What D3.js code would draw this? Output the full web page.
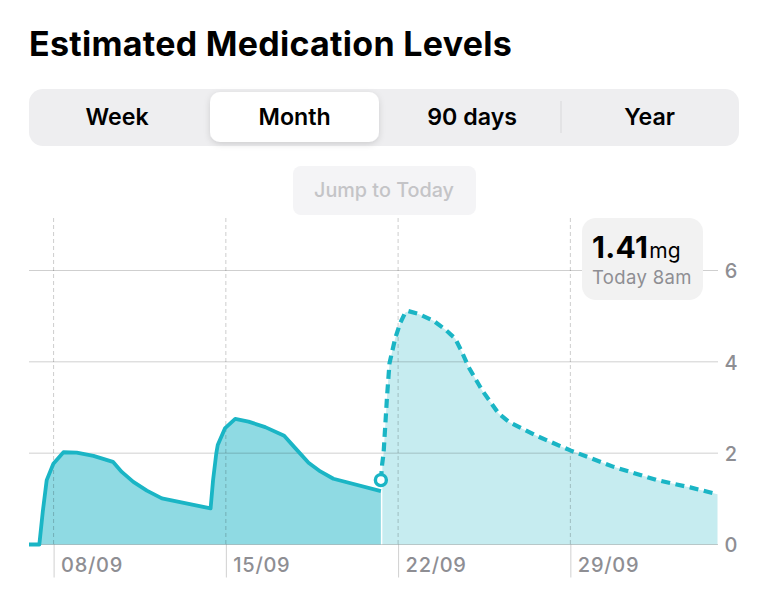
<!DOCTYPE html>
<html>
<head>
<meta charset="utf-8">
<title>Estimated Medication Levels</title>
<script src="https://cdnjs.cloudflare.com/ajax/libs/d3/7.8.5/d3.min.js"></script>
<style>
  html, body { margin: 0; padding: 0; background: #fff; }
  svg { display: block; }
  text { font-family: Inter, "Noto Sans", sans-serif; }
</style>
</head>
<body>
<div id="chart"></div>
<script>
// day of september (goes past 30 into october) and level in mg
var pastDays = [7, 7.42, 7.56, 7.72, 7.99, 8.4, 8.94, 9.62, 10.41, 10.77, 11.24, 11.79, 12.4, 14.38, 14.48, 14.61, 14.67, 14.97, 15.38, 15.92, 16.6, 17.37, 17.82, 18.36, 18.84, 19.37, 21.3];
var pastLevels = [0, 0, 0.72, 1.41, 1.77, 2.02, 2.01, 1.94, 1.81, 1.59, 1.37, 1.18, 1.01, 0.79, 1.41, 1.99, 2.18, 2.55, 2.75, 2.69, 2.57, 2.38, 2.11, 1.79, 1.6, 1.44, 1.17];

var futureDays = [21.3, 21.35, 21.41, 21.45, 21.55, 21.65, 21.88, 22.08, 22.29, 22.42, 22.83, 23.44, 23.91, 24.32, 24.59, 24.86, 25.41, 25.74, 26.08, 26.49, 27.03, 27.71, 29, 30.76, 32.52, 33.87, 34.98];
var futureLevels = [1.41, 1.75, 2, 2.36, 3.24, 3.97, 4.51, 4.84, 5.08, 5.11, 5.05, 4.9, 4.71, 4.51, 4.22, 3.89, 3.38, 3.13, 2.87, 2.69, 2.54, 2.36, 2.06, 1.7, 1.41, 1.25, 1.1];

var xTickDays = [8, 15, 22, 29];
var xTickLabels = ["08/09", "15/09", "22/09", "29/09"];
var yTicks = [0, 2, 4, 6];
var periods = ["Week", "Month", "90 days", "Year"];
var todayDay = 21.3;
var todayLevel = 1.41;

var width = 768, height = 600;

var svg = d3.select("#chart").append("svg")
    .attr("width", width)
    .attr("height", height);

var defs = svg.append("defs");
var shadow = defs.append("filter").attr("id", "pillShadow")
    .attr("x", "-10%").attr("y", "-20%").attr("width", "120%").attr("height", "150%");
shadow.append("feDropShadow")
    .attr("dx", 0).attr("dy", 2).attr("stdDeviation", 3)
    .attr("flood-color", "#000").attr("flood-opacity", 0.14);

// title
svg.append("text")
    .attr("x", 29).attr("y", 56)
    .attr("font-size", 34).attr("font-weight", 700).attr("fill", "#000")
    .attr("letter-spacing", 0.28)
    .text("Estimated Medication Levels");

// segmented control
var segScale = d3.scaleBand().domain(periods).range([29, 739]);

svg.append("rect")
    .attr("x", 29).attr("y", 89).attr("width", 710).attr("height", 57)
    .attr("rx", 14).attr("fill", "#eeeef0");

svg.append("rect")
    .attr("x", 210).attr("y", 92).attr("width", 169).attr("height", 50)
    .attr("rx", 10).attr("fill", "#fff")
    .attr("filter", "url(#pillShadow)");

svg.append("line")
    .attr("x1", 561).attr("x2", 561).attr("y1", 101).attr("y2", 133)
    .attr("stroke", "#d8d8da").attr("stroke-width", 1);

svg.selectAll(".period").data(periods).enter().append("text")
    .attr("class", "period")
    .attr("x", function(d) { return segScale(d) + segScale.bandwidth() / 2 - 0.6; })
    .attr("y", 125)
    .attr("text-anchor", "middle")
    .attr("font-size", 23.2).attr("font-weight", 600).attr("fill", "#000")
    .text(function(d) { return d; });

// jump button
svg.append("rect")
    .attr("x", 293).attr("y", 166).attr("width", 183).attr("height", 49)
    .attr("rx", 8).attr("fill", "#f4f4f6");

svg.append("text")
    .attr("x", 384).attr("y", 197)
    .attr("text-anchor", "middle")
    .attr("font-size", 19.8).attr("font-weight", 500).attr("fill", "#c4c4c7")
    .text("Jump to Today");

// scales
var xScale = d3.scaleLinear().domain([7, 35]).range([29, 718]);
var yScale = d3.scaleLinear().domain([0, 6]).range([544.5, 270.5]);

var past = pastDays.map(function(d, i) { return { day: d, level: pastLevels[i] }; });
var future = futureDays.map(function(d, i) { return { day: d, level: futureLevels[i] }; });

var line = d3.line()
    .x(function(d) { return xScale(d.day); })
    .y(function(d) { return yScale(d.level); });

var area = d3.area()
    .x(function(d) { return xScale(d.day); })
    .y0(yScale(0))
    .y1(function(d) { return yScale(d.level); });

// areas go under the grid lines
svg.append("path")
    .attr("d", area(past.slice(1)))
    .attr("fill", "#8fdae3");

svg.append("path")
    .attr("d", area(future.map(function(d) {
        return { day: Math.max(d.day, todayDay + 0.06), level: d.level };
    })))
    .attr("fill", "#c6ecf0");

// horizontal grid
svg.selectAll(".hgrid").data(yTicks).enter().append("line")
    .attr("class", "hgrid")
    .attr("x1", 29).attr("x2", 718)
    .attr("y1", function(d) { return yScale(d); })
    .attr("y2", function(d) { return yScale(d); })
    .attr("stroke", "#000").attr("stroke-opacity", 0.19).attr("stroke-width", 1);

// vertical dashed grid
svg.selectAll(".vgrid").data(xTickDays).enter().append("line")
    .attr("class", "vgrid")
    .attr("x1", function(d) { return xScale(d); })
    .attr("x2", function(d) { return xScale(d); })
    .attr("y1", 218).attr("y2", yScale(0))
    .attr("stroke", "#000").attr("stroke-opacity", 0.2).attr("stroke-width", 1)
    .attr("stroke-dasharray", "4,3");

// axes
var xAxis = d3.axisBottom(xScale)
    .tickValues(xTickDays)
    .tickSize(33)
    .tickFormat(function(d, i) { return xTickLabels[i]; });

var gx = svg.append("g")
    .attr("transform", "translate(0," + yScale(0) + ")")
    .call(xAxis);
gx.select(".domain").remove();
gx.selectAll(".tick line").attr("stroke", "#000").attr("stroke-opacity", 0.19);
gx.selectAll(".tick text")
    .attr("x", 7).attr("y", 27)
    .attr("dy", 0)
    .attr("text-anchor", "start")
    .attr("font-size", 20).attr("font-weight", 500)
    .attr("letter-spacing", 0.7)
    .attr("fill", "#8e8e93")
    .style("font-family", "Inter, sans-serif");

var yAxis = d3.axisRight(yScale).tickValues(yTicks).tickSize(0).tickFormat(d3.format("d"));
var gy = svg.append("g")
    .attr("transform", "translate(731,0)")
    .call(yAxis);
gy.select(".domain").remove();
gy.selectAll(".tick text")
    .attr("x", 0).attr("dy", "0.36em")
    .attr("text-anchor", "middle")
    .attr("font-size", 20).attr("font-weight", 500)
    .attr("fill", "#8e8e93")
    .style("font-family", "Inter, sans-serif");

// lines
svg.append("path")
    .attr("d", line(past))
    .attr("fill", "none")
    .attr("stroke", "#1ab5c5").attr("stroke-width", 3.8)
    .attr("stroke-linejoin", "round");

svg.append("path")
    .attr("d", line(future))
    .attr("fill", "none")
    .attr("stroke", "#1ab5c5").attr("stroke-width", 4.2)
    .attr("stroke-dasharray", "9,5.5");

// today marker
svg.append("circle")
    .attr("cx", xScale(todayDay)).attr("cy", yScale(todayLevel))
    .attr("r", 5.5)
    .attr("fill", "#fff")
    .attr("stroke", "#1ab5c5").attr("stroke-width", 3.4);

// readout
svg.append("rect")
    .attr("x", 582).attr("y", 218).attr("width", 121).attr("height", 82)
    .attr("rx", 14).attr("fill", "#f2f2f2");

var value = svg.append("text")
    .attr("x", 592).attr("y", 258)
    .attr("fill", "#000");
value.append("tspan")
    .attr("font-size", 30).attr("font-weight", 700)
    .attr("letter-spacing", 0.3)
    .text(todayLevel);
value.append("tspan")
    .attr("font-size", 21).attr("font-weight", 400)
    .attr("dx", 1)
    .text("mg");

svg.append("text")
    .attr("x", 592).attr("y", 284)
    .attr("font-size", 18.5).attr("font-weight", 400).attr("fill", "#8e8e93")
    .attr("letter-spacing", 0.35)
    .text("Today 8am");
</script>
</body>
</html>
